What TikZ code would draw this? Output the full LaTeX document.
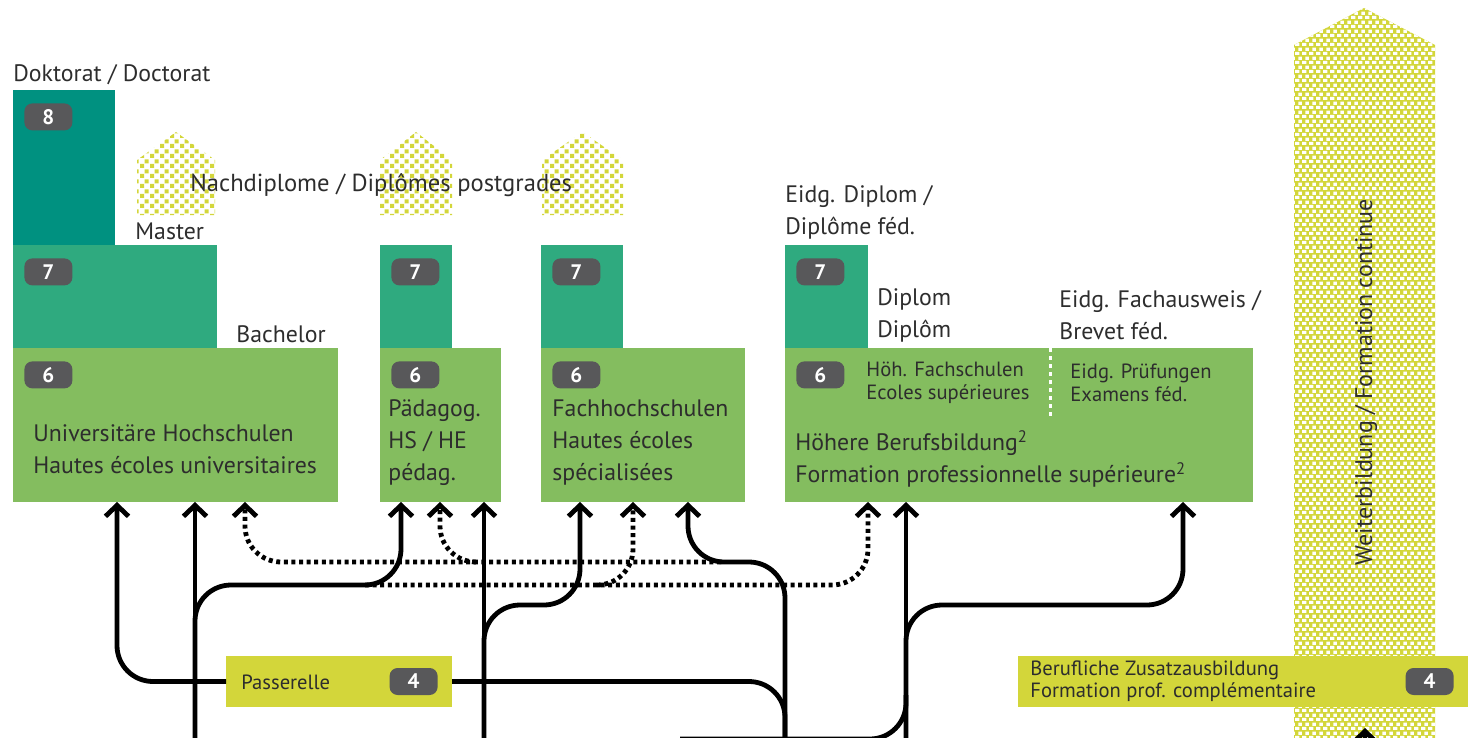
\documentclass[tikz,border=0pt]{standalone}
\usepackage{fontspec}
\setmainfont{PT Sans}
\usepackage{tikz}
\usetikzlibrary{positioning,arrows.meta,patterns}

\definecolor{doccol}{RGB}{0,145,128}
\definecolor{mastercol}{RGB}{47,170,127}
\definecolor{bachcol}{RGB}{132,189,95}
\definecolor{passcol}{RGB}{211,214,58}
\definecolor{badgecol}{RGB}{88,88,90}
\definecolor{textcol}{RGB}{45,45,45}

\pgfdeclarepatternformonly{housedots}{\pgfqpoint{0pt}{0pt}}{\pgfqpoint{5pt}{5pt}}{\pgfqpoint{5pt}{5pt}}{
    \pgfpathrectangle{\pgfqpoint{0pt}{0pt}}{\pgfqpoint{2.2pt}{2.2pt}}
    \pgfpathrectangle{\pgfqpoint{2.5pt}{2.5pt}}{\pgfqpoint{2.2pt}{2.2pt}}
    \pgfusepath{fill}}
\pgfdeclarepatternformonly{meshdots}{\pgfqpoint{0pt}{0pt}}{\pgfqpoint{3.6pt}{4.6pt}}{\pgfqpoint{3.6pt}{4.6pt}}{
    \pgfpathrectangle{\pgfqpoint{0pt}{0pt}}{\pgfqpoint{2.4pt}{1.7pt}}
    \pgfpathrectangle{\pgfqpoint{1.8pt}{2.3pt}}{\pgfqpoint{2.4pt}{1.7pt}}
    \pgfusepath{fill}}

\tikzset{
    block/.style={
           rectangle,
           anchor=north west,
           inner sep=0pt,
           outer sep=0pt,
           },
    doctorate/.style={block, fill=doccol},
    master/.style={block, fill=mastercol, minimum height=51.5pt},
    bachelor/.style={block, fill=bachcol, minimum height=77pt},
    bridge/.style={block, fill=passcol, minimum height=25.5pt},
    badge/.style={
           rectangle,
           rounded corners=4pt,
           fill=badgecol,
           text=white,
           font=\bfseries\fontsize{10.5}{10.5}\selectfont,
           minimum width=24pt,
           minimum height=13.5pt,
           inner sep=0pt,
           },
    caption/.style={anchor=west, inner sep=0pt, align=left, text=textcol,
           font=\fontsize{11.9}{16}\selectfont},
    smallcaption/.style={caption, font=\fontsize{10.3}{11.5}\selectfont},
    route/.style={line width=2.4pt, rounded corners=18pt},
    flow/.style={route, -{Straight Barb[length=5.5pt,width=11.5pt]}},
    altflow/.style={flow, dash pattern=on 2pt off 1.8pt},
}

\begin{document}
\begin{tikzpicture}[x=0.5pt, y=-0.5pt]
    \useasboundingbox (0,0) rectangle (1468,738);
    \clip (0,0) rectangle (1468,738);

    % Weiterbildung arrow in the back
    \path[fill=passcol, postaction={pattern=meshdots, pattern color=white}]
        (1294,760) -- (1294,45) -- (1364,8) -- (1435,45) -- (1435,760) -- cycle;
    \node[rotate=90, text=textcol, font=\fontsize{12}{12}\selectfont] (wbtext)
        at (1366,382) {Weiterbildung / Formation continue};

    % postgraduate houses
    \foreach \x/\w in {137/78, 380/72, 542/81}
        \path[pattern=housedots, pattern color=passcol]
            (\x,215) -- (\x,160) -- ++(\w/2,-28) -- ++(\w/2,28) -- ++(0,55) -- cycle;
    \node[caption, font=\fontsize{12.3}{16}\selectfont] (postgrad) at (190,185) {Nachdiplome / Diplômes postgrades};

    % University column
    \node[doctorate, minimum width=51pt, minimum height=77.5pt] (doc) at (13,90) {};
    \node[master, minimum width=102pt] (uni7) at (13,245) {};
    \node[bachelor, minimum width=162.5pt] (uni6) at (13,348) {};
    \node[badge, below right=6.5pt and 5.5pt of doc.north west] (b8) {8};
    \node[badge, below right=6.5pt and 5.5pt of uni7.north west] (bu7) {7};
    \node[badge, below right=6.5pt and 5.5pt of uni6.north west] (bu6) {6};
    \node[caption] (doclbl) at (13,75) {Doktorat / Doctorat};
    \node[caption] (mlbl) at (135,231) {Master};
    \node[caption] (blbl) at (236,334) {Bachelor};
    \node[caption] (unitxt) at (33,449) {Universitäre Hochschulen\\Hautes écoles universitaires};

    % Paedagogische Hochschulen
    \node[master, minimum width=36pt] (pae7) at (380,245) {};
    \node[bachelor, minimum width=60.5pt] (pae6) at (380,348) {};
    \node[badge, below right=6.5pt and 5.5pt of pae7.north west] (bp7) {7};
    \node[badge, below right=6.5pt and 5.5pt of pae6.north west] (bp6) {6};
    \node[caption] (paetxt) at (388,443) {Pädagog.\\HS / HE\\pédag.};

    % Fachhochschulen
    \node[master, minimum width=41pt] (fh7) at (541,245) {};
    \node[bachelor, minimum width=102pt] (fh6) at (541,348) {};
    \node[badge, below right=6.5pt and 5.5pt of fh7.north west] (bf7) {7};
    \node[badge, below right=6.5pt and 5.5pt of fh6.north west] (bf6) {6};
    \node[caption] (fhtxt) at (552,443) {Fachhochschulen\\Hautes écoles\\spécialisées};

    % Hoehere Berufsbildung
    \node[master, minimum width=41.5pt] (hbb7) at (785,245) {};
    \node[bachelor, minimum width=234pt] (hbb6) at (785,348) {};
    \node[badge, below right=6.5pt and 5.5pt of hbb7.north west] (bh7) {7};
    \node[badge, below right=6.5pt and 5.5pt of hbb6.north west] (bh6) {6};
    \node[caption] (edlbl) at (785,212) {Eidg. Diplom /\\Diplôme féd.};
    \node[caption] (dlbl) at (877,315) {Diplom\\Diplôm};
    \node[caption] (falbl) at (1059,315) {Eidg. Fachausweis /\\Brevet féd.};
    \node[smallcaption] (hftxt) at (866,383) {Höh. Fachschulen\\Ecoles supérieures};
    \node[smallcaption] (eptxt) at (1070,383) {Eidg. Prüfungen\\Examens féd.};
    \draw[white, line width=1.5pt, dash pattern=on 2pt off 2pt]
        ([xshift=132.5pt]hbb6.north west) -- ++(0,-35pt);
    \node[caption] (hbbtxt) at (795,459) {Höhere Berufsbildung\textsuperscript{2}\\Formation professionnelle supérieure\textsuperscript{2}};

    % Passerelle and Zusatzausbildung
    \node[bridge, minimum width=113pt] (pass) at (226,656) {};
    \node[badge, left=7pt of pass.east] (b4p) {4};
    \node[smallcaption] (passtxt) at (241,682) {Passerelle};
    \node[bridge, minimum width=225pt] (zusatz) at (1018,656) {};
    \node[badge, left=7pt of zusatz.east] (b4z) {4};
    \node[smallcaption, font=\fontsize{10.3}{11}\selectfont] (zutxt) at (1030,681)
        {Berufliche Zusatzausbildung\\Formation prof. complémentaire};

    % free ends at the bottom
    \coordinate (gym) at (195,745);
    \coordinate (bm) at (484,745);
    \coordinate (eba) at (785,745);
    \coordinate (efz) at (906,745);
    \coordinate (low) at (680,739);
    \coordinate (wb) at (1365,775);

    % dotted paths
    \draw[altflow] ([xshift=90pt,yshift=-30pt]fh6.south west) -| ([xshift=116pt]uni6.south west);
    \draw[altflow] ([xshift=48pt,yshift=-30pt]pae6.south west) -| ([xshift=30pt]pae6.south west);
    \draw[altflow] ([xshift=-7.5pt,yshift=-41.5pt]pae6.south west) -| ([xshift=41.5pt]hbb6.south west);
    \draw[altflow] ([xshift=28pt,yshift=-41.5pt]fh6.south west) -| ([xshift=46pt]fh6.south west);

    % solid paths
    \draw[flow] (pass.west) -| ([xshift=52pt]uni6.south west);
    \draw[flow] (gym) -- ([xshift=91pt]uni6.south west);
    \draw[flow] (gym) |- ([xshift=10.5pt,yshift=-41.5pt]pae6.south west) -- ([xshift=10.5pt]pae6.south west);
    \draw[flow] (bm) -- ([xshift=52pt]pae6.south west);
    \draw[flow] (bm) |- ([xshift=19.5pt,yshift=-51.5pt]fh6.south west) -- ([xshift=19.5pt]fh6.south west);
    \draw[route] (pass.east) -| (eba);
    \draw[flow] (eba) |- ([xshift=73.5pt,yshift=-30pt]fh6.south west) -- ([xshift=73.5pt]fh6.south west);
    \draw[flow] (efz) -- ([xshift=60.5pt]hbb6.south west);
    \draw[flow] (efz) |- ([xshift=199pt,yshift=-51.5pt]hbb6.south west) -- ([xshift=199pt]hbb6.south west);
    \draw[route] (low) -| ([yshift=25pt]efz);
    \draw[flow] (wb) -- ([xshift=61pt,yshift=-10.5pt]zusatz.south);
\end{tikzpicture}
\end{document}
